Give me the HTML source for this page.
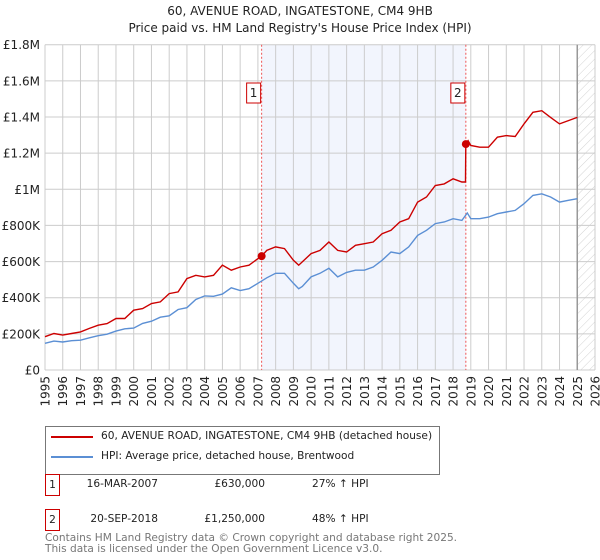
<!DOCTYPE html>
<html><head><meta charset="utf-8"><style>
body{margin:0;background:#fff;font-family:"DejaVu Sans","Liberation Sans",sans-serif;}
#wrap{position:relative;width:600px;height:560px;overflow:hidden}
svg{position:absolute;left:0;top:0;font-family:"DejaVu Sans","Liberation Sans",sans-serif}
</style></head><body>
<div id="wrap">
<svg id="c" width="600" height="560" viewBox="0 0 600 560">
<defs><pattern id="hatch" width="6" height="6" patternUnits="userSpaceOnUse" patternTransform="rotate(45)"><line x1="0" y1="0" x2="0" y2="6" stroke="#c8c8c8" stroke-width="0.8"/></pattern></defs>
<text x="300" y="15" text-anchor="middle" font-size="12" fill="#222">60, AVENUE ROAD, INGATESTONE, CM4 9HB</text>
<text x="300" y="32" text-anchor="middle" font-size="12" fill="#222">Price paid vs. HM Land Registry's House Price Index (HPI)</text>
<g id="grid"></g><g id="marks"></g><g id="axes"></g>
</svg>
<div style="position:absolute;left:45px;top:426px;width:393px;height:47px;border:1px solid #777;font-size:10.6px;color:#222;white-space:nowrap">
 <div style="position:absolute;left:5px;top:9px;width:42px;height:2px;background:#cc0000"></div>
 <div style="position:absolute;left:55px;top:3px">60, AVENUE ROAD, INGATESTONE, CM4 9HB (detached house)</div>
 <div style="position:absolute;left:5px;top:29px;width:42px;height:2px;background:#5b8fd4"></div>
 <div style="position:absolute;left:55px;top:23px">HPI: Average price, detached house, Brentwood</div>
</div>
<div id="tbl"></div>
<div style="position:absolute;left:45px;top:533px;font-size:10.6px;color:#777;line-height:11px;white-space:nowrap">Contains HM Land Registry data © Crown copyright and database right 2025.<br>This data is licensed under the Open Government Licence v3.0.</div>
</div>
<script>
const yearTicks=[1995,1996,1997,1998,1999,2000,2001,2002,2003,2004,2005,2006,2007,2008,2009,2010,2011,2012,2013,2014,2015,2016,2017,2018,2019,2020,2021,2022,2023,2024,2025,2026];
const valueTicks=[0,200000,400000,600000,800000,1000000,1200000,1400000,1600000,1800000];
const valueTickLabels=["£0","£200K","£400K","£600K","£800K","£1M","£1.2M","£1.4M","£1.6M","£1.8M"];
const hpiYears=[1995,1995.5,1996,1996.5,1997,1997.5,1998,1998.5,1999,1999.5,2000,2000.5,2001,2001.5,2002,2002.5,2003,2003.5,2004,2004.5,2005,2005.5,2006,2006.5,2007,2007.5,2008,2008.5,2009,2009.3,2009.5,2010,2010.5,2011,2011.5,2012,2012.5,2013,2013.5,2014,2014.5,2015,2015.5,2016,2016.5,2017,2017.5,2018,2018.5,2018.8,2019,2019.5,2020,2020.5,2021,2021.5,2022,2022.5,2023,2023.5,2024,2024.5,2025];
const hpiValues=[148,160,155,162,165,178,190,198,215,228,232,258,270,292,300,335,345,390,410,408,420,455,440,450,480,510,535,535,480,450,462,515,535,563,515,540,552,552,570,607,653,644,681,745,773,810,819,837,828,869,837,837,846,865,874,883,920,966,975,957,929,939,948];
const propYears=[1995,1995.5,1996,1996.5,1997,1997.5,1998,1998.5,1999,1999.5,2000,2000.5,2001,2001.5,2002,2002.5,2003,2003.5,2004,2004.5,2005,2005.5,2006,2006.5,2007,2007.21,2007.5,2008,2008.5,2009,2009.3,2010,2010.5,2011,2011.5,2012,2012.5,2013,2013.5,2014,2014.5,2015,2015.5,2016,2016.5,2017,2017.5,2018,2018.5,2018.7,2018.72,2018.85,2019,2019.5,2020,2020.5,2021,2021.5,2022,2022.5,2023,2023.5,2024,2024.5,2025];
const propValues=[184,202,193,202,211,230,248,257,285,285,331,340,368,377,423,432,506,524,515,524,580,552,570,580,616,630,662,681,672,607,580,644,662,708,662,653,690,699,708,754,773,819,837,929,957,1021,1030,1058,1040,1040,1250,1269,1242,1233,1233,1288,1297,1292,1362,1426,1435,1398,1362,1380,1398];
const saleYears=[2007.21,2018.72];
const saleValues=[630000,1250000];
const saleLabels=["1","2"];
const saleDates=["16-MAR-2007","20-SEP-2018"];
const salePrices=["£630,000","£1,250,000"];
const saleHpi=["27% ↑ HPI","48% ↑ HPI"];

const L=45,R=595,T=44.7,B=370,X0=1995,X1=2026,YMAX=1800000;
const xS=v=>L+(v-X0)/(X1-X0)*(R-L);
const yS=v=>B-v/YMAX*(B-T);
const NS="http://www.w3.org/2000/svg";
function mk(tag,attrs,parent){const e=document.createElementNS(NS,tag);for(const k in attrs)e.setAttribute(k,attrs[k]);parent.appendChild(e);return e;}
const grid=document.getElementById('grid'),marks=document.getElementById('marks'),axes=document.getElementById('axes');
let sp=mk('rect',{x:xS(saleYears[0]),y:T,width:xS(saleYears[1])-xS(saleYears[0]),height:B-T,fill:'#f2f5fd'},grid);


let ht=mk('rect',{x:xS(2025),y:T,width:R-xS(2025),height:B-T,fill:'url(#hatch)'},grid);


yearTicks.forEach(y=>{
 let g=mk('line',{x1:xS(y),x2:xS(y),y1:T,y2:B,stroke:'#cccccc','stroke-width':1},grid);
 
 
 let t=mk('text',{x:0,y:0,transform:`translate(${xS(y)+4.5},376) rotate(-90)`,'text-anchor':'end','font-size':12,fill:'#222'},axes);
 t.textContent=y;
 
 
});
valueTicks.forEach((v,i)=>{
 let g=mk('line',{x1:L,x2:R,y1:yS(v),y2:yS(v),stroke:'#cccccc','stroke-width':1},grid);
 
 
 let t=mk('text',{x:40,y:yS(v)+4.5,'text-anchor':'end','font-size':12,fill:'#222'},axes);
 t.textContent=valueTickLabels[i];
 
 
});
let nl=mk('line',{x1:xS(2025),x2:xS(2025),y1:T,y2:B,stroke:'#999','stroke-width':1.5},grid);


saleYears.forEach((y,i)=>{
 let l=mk('line',{x1:xS(y),x2:xS(y),y1:T,y2:B,stroke:'#ee5555','stroke-width':1,'stroke-dasharray':'2,2'},marks);
 
 
});
function path(xs,vs){return xs.map((x,i)=>(i?'L':'M')+xS(x).toFixed(1)+','+yS(vs[i]*1000).toFixed(1)).join('');}
let hp=mk('path',{d:path(hpiYears,hpiValues),fill:'none',stroke:'#5b8fd4','stroke-width':1.4},marks);


let pp=mk('path',{d:path(propYears,propValues),fill:'none',stroke:'#cc0000','stroke-width':1.4},marks);


saleYears.forEach((y,i)=>{
 let c=mk('circle',{cx:xS(y),cy:yS(saleValues[i]),r:4,fill:'#cc0000'},marks);
 
 
 let r=mk('rect',{x:xS(y)-15,y:83,width:14,height:20,fill:'#fff',stroke:'#c00','stroke-width':1},marks);
 
 
 let t=mk('text',{x:xS(y)-8,y:97,'text-anchor':'middle','font-size':12,fill:'#222'},marks);
 t.textContent=saleLabels[i];
 
 
});
const tbl=document.getElementById('tbl');
saleLabels.forEach((s,i)=>{
 const top=[474,509][i];
 const row=document.createElement('div');
 
 
 row.style.cssText=`position:absolute;left:0;top:${top}px;width:600px;height:22px;font-size:10.6px;color:#222;white-space:nowrap`;
 row.innerHTML=`<div style="position:absolute;left:45px;top:0;width:15px;height:22px;border:1px solid #c00;box-sizing:border-box;text-align:center;line-height:20px">${s}</div>
 <div style="position:absolute;left:58px;width:100px;text-align:right;top:4px">${saleDates[i]}</div>
 <div style="position:absolute;left:165px;width:100px;text-align:right;top:4px">${salePrices[i]}</div>
 <div style="position:absolute;left:312px;top:4px">${saleHpi[i]}</div>`;
 tbl.appendChild(row);
});
</script>
</body></html>
